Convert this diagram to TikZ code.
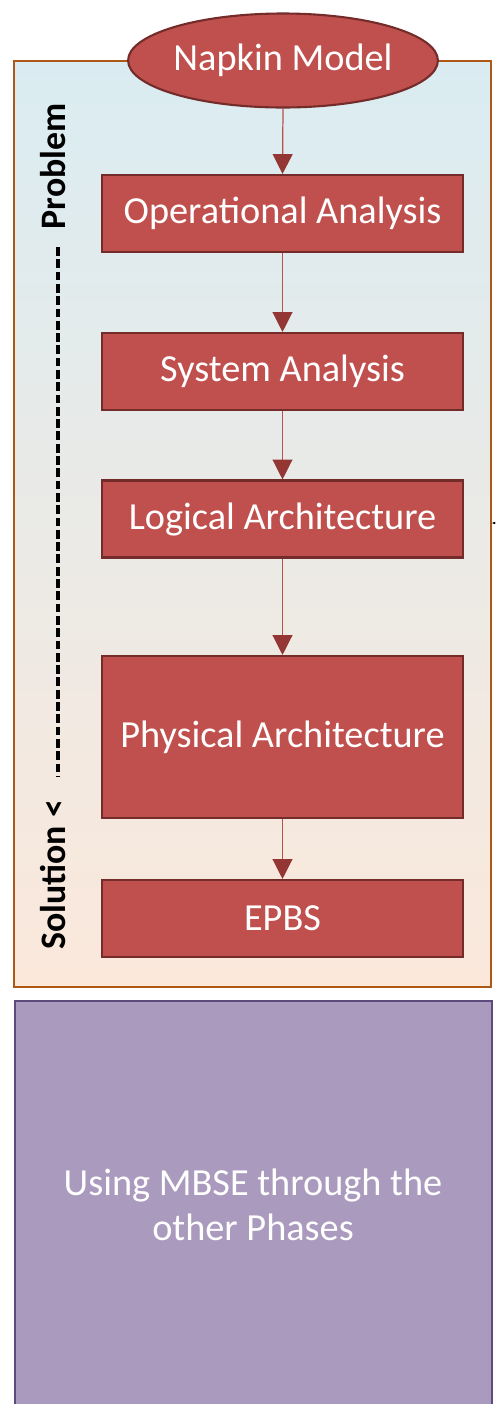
\documentclass[tikz,border=0pt]{standalone}
\usepackage{fontspec}
\setmainfont{Carlito}
\usetikzlibrary{arrows.meta,shapes.geometric}

\definecolor{boxred}{HTML}{C0504D}
\definecolor{boxedge}{HTML}{742C2A}
\definecolor{tipred}{HTML}{943634}
\definecolor{linkred}{HTML}{B9514E}
\definecolor{frameorange}{HTML}{AE5816}
\definecolor{topblue}{HTML}{DAECF2}
\definecolor{bottompeach}{HTML}{FBE8DB}
\definecolor{phasefill}{HTML}{A99ABE}
\definecolor{phaseedge}{HTML}{5E4A7D}

\tikzset{
  stepbox/.style={rectangle, draw=boxedge, line width=1.2pt, fill=boxred,
    text=white, minimum width=7.22cm, minimum height=1.54cm, inner sep=0pt,
    font=\fontsize{21.8}{26}\selectfont},
  startoval/.style={ellipse, draw=boxedge, line width=1.2pt, fill=boxred,
    text=white, minimum width=6.16cm, minimum height=1.88cm, inner sep=0pt,
    font=\fontsize{21.8}{26}\selectfont},
  flow/.style={draw=linkred, line width=0.7pt,
    -{Triangle[length=11.3pt,width=11.3pt,color=tipred]}},
  sidelabel/.style={rotate=90, inner sep=0pt, font=\fontsize{20.4}{24}\selectfont\bfseries},
  dashline/.style={line width=2pt, dash pattern=on 5pt off 2pt},
}

\begin{document}
\begin{tikzpicture}[x=0.02cm, y=-0.02cm]
  \useasboundingbox (0,0) rectangle (495,1404);
  \clip (0,0) rectangle (495,1404);
  \fill[white] (0,0) rectangle (495,1404);

  % problem-to-solution frame
  \shade[top color=topblue, bottom color=bottompeach] (14,61) rectangle (491,987);
  \draw[frameorange, line width=1.2pt] (14,61) rectangle (491,987);

  % later phases
  \node[rectangle, draw=phaseedge, line width=1.2pt, fill=phasefill,
        minimum width=9.54cm, minimum height=8.4cm, inner sep=0pt, anchor=north west]
        (phases) at (14,1000) {};
  \node[text=white, align=center, font=\fontsize{21.8}{25.5}\selectfont]
        (phasetext) at (253,1205) {Using MBSE through the\\other Phases};

  % flow of models
  \node[startoval] (napkin) at (283,60.5) {Napkin Model};
  \node[stepbox] (oa)   at (282.5,213.5) {Operational Analysis};
  \node[stepbox] (sa)   at (282.5,371.5) {System Analysis};
  \node[stepbox] (la)   at (282.5,519)   {Logical Architecture};
  \node[stepbox, minimum height=3.24cm] (pa) at (282.5,737) {Physical Architecture};
  \node[stepbox] (epbs) at (282.5,918.5) {EPBS};

  \draw[flow] (napkin.south) -- (oa.north);
  \draw[flow] (oa.south) -- (sa.north);
  \draw[flow] (sa.south) -- (la.north);
  \draw[flow] (la.south) -- (pa.north);
  \draw[flow] (pa.south) -- (epbs.north);

  % side axis: from problem to solution
  \node[sidelabel, anchor=base east] (prob) at (65,103) {Problem};
  \node[sidelabel, anchor=base west] (sol)  at (65,950) {Solution <};
  \coordinate (dtop) at (58,247);
  \coordinate (dbot) at (58,776);
  \draw[dashline] (dtop) -- (dbot);

  % incoming link on the right edge
  \coordinate (rin) at (497,523);
  \coordinate (rtip) at (491.5,523);
  \draw[line width=0.5pt, -{Latex[length=3.5pt,width=3pt]}] (rin) -- (rtip);
\end{tikzpicture}
\end{document}
